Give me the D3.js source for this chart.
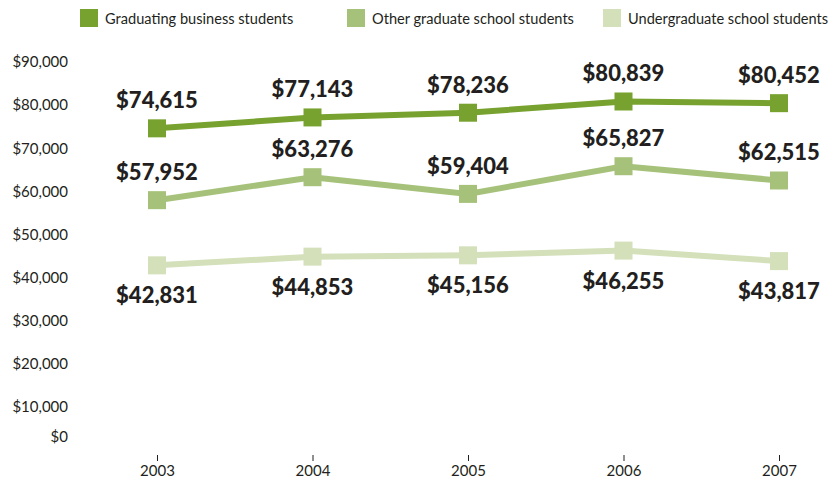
<!DOCTYPE html>
<html>
<head>
<meta charset="utf-8">
<script src="https://cdn.jsdelivr.net/npm/d3@7/dist/d3.min.js"></script>
<style>
  html, body { margin: 0; padding: 0; background: #ffffff; }
  svg { display: block; }
  .axis text { font-family: Lato, "Open Sans", sans-serif; fill: #231f20; }
  .val { font-family: Lato, "Open Sans", sans-serif; font-weight: 900; fill: #231f20; }
  .leg { font-family: Lato, "Open Sans", sans-serif; fill: #231f20; }
</style>
</head>
<body>
<svg id="chart" width="835" height="485"></svg>
<script>
// Average starting salaries by year
const years = ["2003", "2004", "2005", "2006", "2007"];
const seriesNames = ["Graduating business students", "Other graduate school students", "Undergraduate school students"];
const business = [74615, 77143, 78236, 80839, 80452];
const otherGrad = [57952, 63276, 59404, 65827, 62515];
const undergrad = [42831, 44853, 45156, 46255, 43817];
const yTicks = [0, 10000, 20000, 30000, 40000, 50000, 60000, 70000, 80000, 90000];

const colors = ["#78a22f", "#a6c27a", "#d3e0ba"];
const labelSide = ["above", "above", "below"];
const seriesData = [business, otherGrad, undergrad];

const svg = d3.select("#chart");

const x = d3.scalePoint().domain(years).range([157, 779]);
const y = d3.scaleLinear().domain([0, 90000]).range([450, 62]);

const fmt = d => "$" + d3.format(",")(d);

// Y axis: labels only; the zero label sits a little higher, clear of the year ticks
const yAxis = svg.append("g")
  .attr("class", "axis")
  .attr("transform", "translate(68,0)")
  .call(d3.axisLeft(y).tickValues(yTicks).tickFormat(fmt).tickSize(0).tickPadding(0));
yAxis.select(".domain").remove();
yAxis.selectAll("text").style("font-size", "15px");
yAxis.selectAll(".tick").filter(d => d === 0).select("text").attr("y", -13);

// X axis: short ticks with year labels
const xAxis = svg.append("g")
  .attr("class", "axis")
  .attr("transform", "translate(0,455)")
  .call(d3.axisBottom(x).tickSize(6).tickPadding(4));
xAxis.select(".domain").remove();
xAxis.selectAll("line").attr("stroke", "#231f20").attr("stroke-width", 1);
xAxis.selectAll("text").style("font-size", "15px");

// Lines, markers and value labels for each series
const line = d3.line().x((d, i) => x(years[i])).y(d => y(d));

seriesData.forEach((vals, s) => {
  const g = svg.append("g");
  g.append("path")
    .datum(vals)
    .attr("d", line)
    .attr("fill", "none")
    .attr("stroke", colors[s])
    .attr("stroke-width", 6);
  g.selectAll("rect")
    .data(vals)
    .join("rect")
    .attr("x", (d, i) => x(years[i]) - 9)
    .attr("y", d => y(d) - 9)
    .attr("width", 18)
    .attr("height", 18)
    .attr("fill", colors[s]);
  g.selectAll("text")
    .data(vals)
    .join("text")
    .attr("class", "val")
    .attr("x", (d, i) => x(years[i]))
    .attr("y", d => labelSide[s] === "above" ? y(d) - 20 : y(d) + 38)
    .attr("text-anchor", "middle")
    .style("font-size", "22px")
    .text(fmt);
});

// Legend
const legX = [80, 347, 603];
const leg = svg.append("g");
seriesNames.forEach((name, s) => {
  leg.append("rect")
    .attr("x", legX[s]).attr("y", 9)
    .attr("width", 18).attr("height", 18)
    .attr("fill", colors[s]);
  leg.append("text")
    .attr("class", "leg")
    .attr("x", legX[s] + 25).attr("y", 24)
    .style("font-size", "14.6px")
    .text(name);
});
</script>
</body>
</html>
